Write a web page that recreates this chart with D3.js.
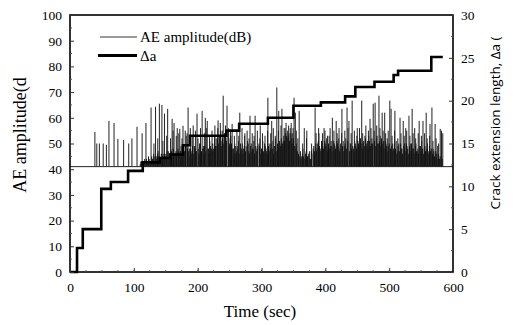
<!DOCTYPE html>
<html>
<head>
<meta charset="utf-8">
<script src="https://cdn.jsdelivr.net/npm/d3@7"></script>
<style>
  html, body { margin: 0; padding: 0; background: #fff; }
  svg { display: block; }
  .tick text { font-family: "Liberation Serif", serif; font-size: 13.5px; fill: #000; }
</style>
</head>
<body>
<svg id="chart" width="514" height="325"></svg>
<script>
// early isolated hits [time s, amplitude dB]
const sparseHits = [
  [39, 54.5], [42, 50], [46, 50], [52, 50], [57, 49.5], [61, 58.8], [69, 58],
  [75, 51.8], [84, 51.4], [92, 50], [97, 52], [105, 56.5]
];

// dense hits after ~110 s, incl. the tall ones [time s, amplitude dB]
const denseHits = [
  [110, 42], [112, 43], [113, 54], [115, 42], [117, 44], [119, 58], [121, 43], [123, 45],
  [125, 42], [127, 64], [129, 44], [131, 46], [132, 43], [134, 64.3], [136, 45], [138, 47],
  [140, 65.5], [142, 44], [144, 65], [146, 46], [148, 61.6], [150, 45], [152, 47], [153, 63.5],
  [156, 46], [158, 48], [160, 59.6], [163, 58], [165, 46], [168, 56], [170, 47], [172, 55.7],
  [174, 49], [177, 56.9], [179, 47], [182, 53], [185, 64], [187, 48], [190, 46], [193, 57],
  [195, 49], [197, 47], [199, 61.6], [201, 48], [203, 50], [205, 46], [207, 62.7], [209, 49],
  [212, 60], [215, 58.8], [217, 48], [219, 51], [221, 47], [223, 50], [225, 48], [227, 57],
  [229, 52], [230, 49], [232, 59], [234, 53], [236, 55], [238, 51], [240, 68.6], [242, 54],
  [244, 52], [246, 64.7], [248, 55], [250, 50], [252, 53], [254, 57.6], [256, 48], [258, 50],
  [260, 46], [262, 49], [264, 51], [266, 62], [268, 47], [270, 50], [272, 48], [274, 54],
  [276, 49], [278, 51], [280, 47], [282, 60.8], [284, 50], [286, 48], [288, 51], [290, 60.8],
  [292, 47], [294, 49], [296, 50], [298, 57], [300, 48], [302, 51], [304, 46], [306, 49],
  [308, 47], [310, 67.8], [312, 50], [314, 48], [316, 58.8], [318, 51], [320, 49], [322, 52],
  [324, 71.8], [327, 62.7], [329, 50], [332, 63.5], [334, 51], [337, 56], [339, 53], [341, 55],
  [343, 54], [345, 56], [347, 52], [349, 54], [351, 67.8], [353, 62], [355, 50], [357, 52],
  [359, 62.7], [361, 47], [363, 45], [365, 48], [367, 56], [369, 46], [371, 55], [373, 45],
  [375, 47], [377, 44], [379, 46], [381, 48], [384, 64], [386, 47], [388, 50], [390, 54],
  [392, 48], [394, 51], [396, 49], [398, 56], [400, 50], [402, 52], [404, 48], [406, 53],
  [408, 49], [411, 60], [413, 51], [415, 49], [417, 58.8], [419, 50], [421, 52], [423, 48],
  [426, 63.5], [428, 51], [430, 49], [432, 52], [434, 64], [437, 58.8], [439, 50], [442, 66.7],
  [444, 48], [446, 51], [448, 49], [450, 56], [452, 50], [454, 52], [457, 66.7], [459, 50],
  [462, 53], [464, 49], [466, 51], [468, 53], [470, 59.6], [472, 50], [475, 65.5], [478, 65.9],
  [480, 52], [482, 50], [484, 68.6], [486, 53], [489, 62], [491, 51], [493, 62], [495, 50],
  [497, 52], [499, 49], [501, 66.7], [503, 63.5], [505, 50], [507, 48], [509, 62.7], [511, 51],
  [513, 47], [515, 50], [517, 60], [519, 48], [522, 58.8], [524, 50], [526, 56], [528, 49],
  [531, 60.8], [533, 50], [536, 63.5], [538, 48], [540, 56], [542, 50], [544, 47], [547, 58.8],
  [549, 49], [551, 51], [553, 58.8], [555, 48], [558, 62], [560, 50], [562, 47], [564, 57.6],
  [567, 64], [569, 48], [572, 57.6], [574, 46], [576, 49], [578, 45], [580, 55.7], [582, 55],
  [584, 54]
];

// low-level hits filling the dark band [time s, amplitude dB]
const bulkHits = [
  [111, 43], [114, 42], [116, 43], [118, 42], [120, 44], [122, 43], [124, 44], [126, 43],
  [128, 45], [130, 44], [133, 45], [135, 44], [137, 46], [139, 45], [141, 44], [143, 46],
  [145, 45], [147, 44], [149, 46], [151, 45], [154, 47], [155, 44], [157, 46], [159, 47],
  [161, 45], [162, 48], [164, 46], [166, 47], [167, 45], [169, 48], [171, 46], [173, 47],
  [175, 45], [176, 48], [178, 46], [180, 47], [181, 49], [184, 48], [186, 47], [188, 45],
  [189, 48], [191, 47], [192, 49], [194, 46], [196, 48], [198, 47], [202, 46], [204, 50],
  [206, 47], [208, 48], [210, 46], [211, 49], [213, 47], [216, 48], [218, 46], [220, 49],
  [222, 48], [224, 47], [226, 50], [228, 49], [231, 52], [233, 50], [235, 53], [237, 49],
  [239, 52], [241, 50], [243, 54], [245, 51], [249, 49], [251, 52], [253, 50], [255, 48],
  [257, 46], [259, 49], [261, 47], [263, 48], [265, 46], [267, 50], [269, 48], [271, 46],
  [273, 49], [275, 47], [279, 50], [281, 46], [283, 49], [285, 47], [287, 48], [289, 46],
  [291, 49], [293, 48], [297, 49], [299, 46], [301, 48], [303, 47], [305, 50], [307, 48],
  [309, 46], [311, 49], [313, 47], [315, 50], [317, 48], [319, 46], [321, 49], [323, 47],
  [325, 50], [326, 48], [328, 51], [330, 49], [331, 52], [333, 50], [335, 53], [336, 51],
  [338, 54], [340, 52], [342, 53], [344, 51], [346, 54], [348, 50], [350, 52], [352, 49],
  [354, 48], [356, 47], [358, 46], [360, 45], [362, 44], [364, 46], [366, 45], [368, 44],
  [370, 47], [372, 45], [374, 46], [376, 44], [378, 47], [382, 49], [383, 47], [385, 50],
  [387, 48], [389, 51], [391, 49], [393, 47], [395, 50], [397, 48], [399, 51], [401, 49],
  [403, 47], [405, 50], [407, 48], [409, 51], [410, 49], [412, 47], [414, 50], [416, 48],
  [418, 51], [420, 49], [422, 47], [424, 50], [427, 49], [429, 47], [431, 50], [433, 48],
  [435, 51], [438, 47], [440, 50], [441, 48], [443, 49], [445, 47], [447, 50], [449, 48],
  [451, 51], [453, 49], [455, 52], [456, 50], [458, 48], [460, 51], [461, 49], [463, 52],
  [465, 50], [467, 48], [469, 51], [471, 49], [473, 52], [474, 50], [477, 51], [479, 49],
  [481, 53], [483, 50], [485, 51], [487, 49], [488, 52], [490, 50], [492, 48], [494, 51],
  [496, 49], [498, 47], [500, 50], [502, 48], [504, 49], [506, 47], [508, 50], [510, 48],
  [512, 46], [514, 49], [516, 47], [518, 50], [520, 48], [521, 46], [523, 49], [525, 47],
  [527, 50], [529, 48], [530, 46], [532, 49], [534, 47], [535, 50], [537, 48], [539, 46],
  [541, 49], [543, 47], [545, 48], [546, 46], [548, 49], [550, 47], [552, 48], [554, 46],
  [556, 49], [557, 47], [559, 48], [561, 46], [563, 49], [565, 47], [566, 48], [568, 46],
  [570, 47], [571, 45], [573, 47], [575, 44], [577, 46], [579, 44], [581, 45], [583, 44]
];

// medium hits giving the ragged top of the band [time s, amplitude dB]
const midHits = [
  [131.5, 50], [137.5, 52], [145.5, 51], [151.5, 53], [157.5, 52], [161.5, 55], [166.5, 53],
  [170.5, 54], [175.5, 52], [180.5, 55], [183.5, 54], [188.5, 56], [191.5, 53], [196.5, 55],
  [200.5, 52], [204.5, 56], [210.5, 54], [213.5, 56], [218.5, 53], [222.5, 55], [226.5, 53],
  [231.5, 56], [235.5, 58], [238.5, 55], [243.5, 57], [248.5, 56], [251.5, 55], [257.5, 53],
  [261.5, 55], [264.5, 53], [269.5, 56], [273.5, 53], [277.5, 55], [280.5, 52], [285.5, 54],
  [288.5, 53], [293.5, 55], [297.5, 52], [301.5, 54], [305.5, 53], [309.5, 55], [314.5, 54],
  [318.5, 56], [321.5, 53], [326.5, 55], [330.5, 57], [335.5, 56], [338.5, 58], [342.5, 57],
  [346.5, 58], [349.5, 56], [354.5, 55], [364.5, 50], [370.5, 52], [378.5, 50], [385.5, 54],
  [389.5, 56], [395.5, 54], [399.5, 55], [403.5, 53], [407.5, 56], [413.5, 55], [418.5, 54],
  [421.5, 56], [425.5, 54], [430.5, 55], [435.5, 56], [440.5, 54], [445.5, 55], [449.5, 53],
  [453.5, 56], [458.5, 54], [463.5, 57], [467.5, 55], [471.5, 56], [476.5, 55], [480.5, 57],
  [485.5, 56], [490.5, 55], [494.5, 54], [498.5, 55], [504.5, 53], [508.5, 55], [513.5, 52],
  [518.5, 54], [523.5, 53], [527.5, 55], [532.5, 53], [537.5, 54], [541.5, 52], [545.5, 54],
  [550.5, 53], [555.5, 54], [559.5, 52], [563.5, 53], [568.5, 51], [573.5, 52], [577.5, 50]
];

const aeBaseline = 41;

// crack extension steps [time s, delta a]
const crackSteps = [
  [0, 0], [11, 2.8], [20, 5.0], [49, 9.7], [64, 10.5], [91, 11.8], [114, 12.8], [141, 13.3],
  [157, 13.7], [177, 14.8], [188, 15.9], [245, 16.5], [265, 17.3], [310, 18.0], [350, 19.4],
  [393, 19.8], [431, 20.5], [447, 21.6], [477, 22.2], [507, 23.0], [514, 23.5], [566, 25.1],
  [584, 25.1]
];

const timeTicks = [0, 100, 200, 300, 400, 500, 600];
const ampTicks = [0, 10, 20, 30, 40, 50, 60, 70, 80, 90, 100];
const crackTicks = [0, 5, 10, 15, 20, 25, 30];

const svg = d3.select('#chart');
const plotL = 70, plotR = 453, plotT = 15, plotB = 272;

const x = d3.scaleLinear().domain([0, 600]).range([plotL, plotR]);
const yAmp = d3.scaleLinear().domain([0, 100]).range([plotB, plotT]);
const yCrack = d3.scaleLinear().domain([0, 30]).range([plotB, plotT]);

// AE hits as vertical lines from the threshold
function drawHits(data, colour, width) {
  svg.append('g')
    .selectAll('line')
    .data(data)
    .enter().append('line')
      .attr('x1', d => x(d[0]))
      .attr('x2', d => x(d[0]))
      .attr('y1', yAmp(aeBaseline))
      .attr('y2', d => yAmp(d[1]))
      .attr('stroke', colour)
      .attr('stroke-width', width);
}
drawHits(sparseHits, '#222', 1);
drawHits(denseHits, '#222', 1);
drawHits(midHits, '#222', 1);
drawHits(bulkHits, '#111', 1);

// threshold line across the plot
svg.append('line')
  .attr('x1', x(0)).attr('x2', x(600))
  .attr('y1', yAmp(aeBaseline)).attr('y2', yAmp(aeBaseline))
  .attr('stroke', '#222').attr('stroke-width', 1);

// crack extension step line
const stepLine = d3.line()
  .x(d => x(d[0]))
  .y(d => yCrack(d[1]))
  .curve(d3.curveStepAfter);

svg.append('path')
  .datum(crackSteps)
  .attr('d', stepLine)
  .attr('fill', 'none')
  .attr('stroke', '#000')
  .attr('stroke-width', 2.6);

// frame
svg.append('rect')
  .attr('x', plotL).attr('y', plotT)
  .attr('width', plotR - plotL).attr('height', plotB - plotT)
  .attr('fill', 'none').attr('stroke', '#000').attr('stroke-width', 1.6);

// axes, ticks pointing inward
const axisL = svg.append('g')
  .attr('transform', `translate(${plotL},0)`)
  .call(d3.axisLeft(yAmp).tickValues(ampTicks).tickSize(-4).tickPadding(8));
const axisR = svg.append('g')
  .attr('transform', `translate(${plotR},0)`)
  .call(d3.axisRight(yCrack).tickValues(crackTicks).tickSize(-4).tickPadding(8));
const axisB = svg.append('g')
  .attr('transform', `translate(0,${plotB})`)
  .call(d3.axisBottom(x).tickValues(timeTicks).tickSize(-4).tickPadding(10));

[axisL, axisR, axisB].forEach(g => {
  g.select('.domain').remove();
  g.selectAll('.tick line').attr('stroke', '#333');
});

// minor ticks
svg.append('g').selectAll('line')
  .data(d3.range(5, 100, 10))
  .enter().append('line')
    .attr('x1', plotL).attr('x2', plotL + 2)
    .attr('y1', d => yAmp(d)).attr('y2', d => yAmp(d))
    .attr('stroke', '#555');
svg.append('g').selectAll('line')
  .data(d3.range(2.5, 30, 5))
  .enter().append('line')
    .attr('x1', plotR).attr('x2', plotR - 2)
    .attr('y1', d => yCrack(d)).attr('y2', d => yCrack(d))
    .attr('stroke', '#555');
svg.append('g').selectAll('line')
  .data(d3.range(25, 600, 25))
  .enter().append('line')
    .attr('x1', d => x(d)).attr('x2', d => x(d))
    .attr('y1', plotB).attr('y2', plotB - 2)
    .attr('stroke', '#555');

// legend
const legend = svg.append('g').attr('font-family', 'Liberation Serif, serif').attr('font-size', 15);
legend.append('line')
  .attr('x1', 100).attr('x2', 137).attr('y1', 37).attr('y2', 37)
  .attr('stroke', '#333').attr('stroke-width', 1);
legend.append('text').attr('x', 140).attr('y', 42).text('AE amplitude(dB)');
legend.append('line')
  .attr('x1', 98).attr('x2', 137).attr('y1', 55.5).attr('y2', 55.5)
  .attr('stroke', '#000').attr('stroke-width', 3);
legend.append('text').attr('x', 140).attr('y', 60.5).text('Δa');

// axis titles
svg.append('text')
  .attr('transform', 'translate(26,135) rotate(-90)')
  .attr('text-anchor', 'middle')
  .attr('font-family', 'Liberation Serif, serif')
  .attr('font-size', 18)
  .text('AE amplitude(d');

svg.append('text')
  .attr('transform', 'translate(500,123) rotate(-90)')
  .attr('text-anchor', 'middle')
  .attr('font-family', 'Open Sans, sans-serif')
  .attr('font-size', 13.5)
  .text('Crack extension length, Δa (');

svg.append('text')
  .attr('x', 260).attr('y', 317)
  .attr('text-anchor', 'middle')
  .attr('font-family', 'Liberation Serif, serif')
  .attr('font-size', 17)
  .text('Time (sec)');
</script>
</body>
</html>
